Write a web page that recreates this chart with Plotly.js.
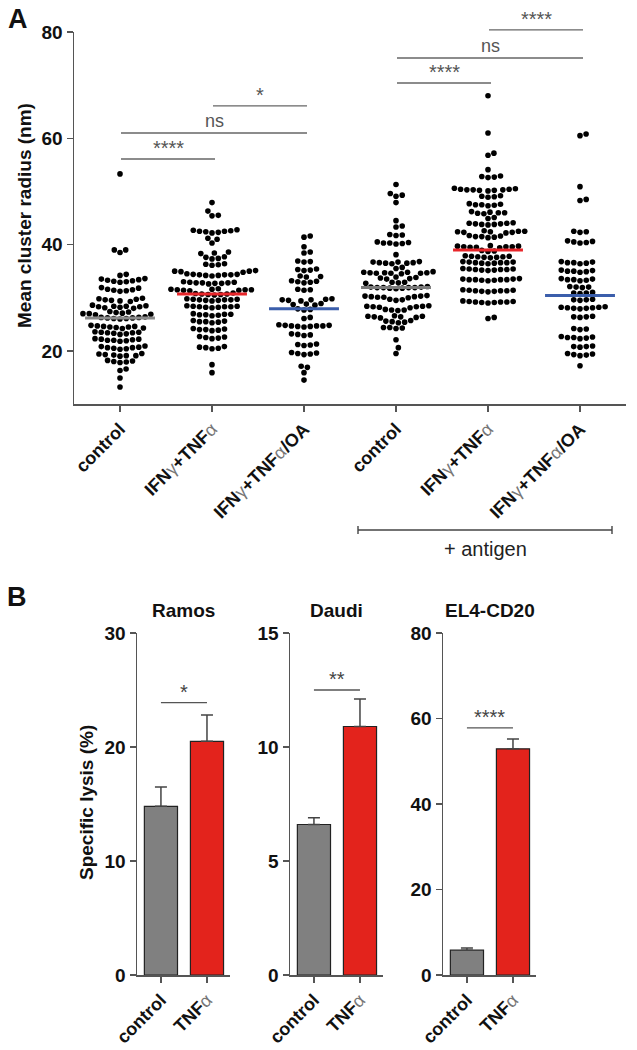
<!DOCTYPE html>
<html>
<head>
<meta charset="utf-8">
<script src="https://cdn.plot.ly/plotly-3.0.1.min.js"></script>
<style>html,body{margin:0;padding:0;background:#fff;}#chart{width:637px;height:1050px;}</style>
</head>
<body>
<div id="chart"></div>
<script>
// ---------- Panel A data (mean cluster radius, nm) ----------
const groupLabels = ["control", "IFN<span style=\"color:#777;font-weight:normal\">γ</span>+TNF<span style=\"color:#777;font-weight:normal\">α</span>",
  "IFN<span style=\"color:#777;font-weight:normal\">γ</span>+TNF<span style=\"color:#777;font-weight:normal\">α</span>/OA",
  "control", "IFN<span style=\"color:#777;font-weight:normal\">γ</span>+TNF<span style=\"color:#777;font-weight:normal\">α</span>",
  "IFN<span style=\"color:#777;font-weight:normal\">γ</span>+TNF<span style=\"color:#777;font-weight:normal\">α</span>/OA"];

const ctrl = [53.3, 39.0, 38.5, 39.0, 34.4, 34.2,
  33.5, 33.3, 33.0, 33.6, 32.9, 33.2, 33.4, 33.1,
  31.8, 31.5, 31.2, 31.6, 31.4, 31.9, 31.3,
  29.8, 29.5, 29.9, 29.4, 29.7, 29.6, 29.3,
  28.5, 28.3, 28.1, 28.4, 28.2, 28.6, 28.0, 28.3, 28.4,
  27.2, 27.0, 27.3, 26.9, 27.1, 27.4, 26.8, 27.0,
  26.3, 26.1, 26.2, 26.4, 26.0, 26.3, 26.2, 26.1,
  24.7, 24.5, 24.3, 24.6, 24.4, 24.8, 24.2, 24.5, 24.6,
  23.5, 23.3, 23.6, 23.2, 23.4, 23.5, 23.1, 23.4,
  22.2, 22.0, 22.3, 21.9, 22.1, 22.2, 21.8, 22.0,
  20.7, 20.5, 20.8, 20.4, 20.6, 20.9, 20.3, 20.6,
  19.3, 19.1, 19.4, 19.0, 19.2, 19.5, 19.1,
  18.1, 17.9, 18.2, 17.8, 18.0, 16.6, 16.3, 14.9, 13.2];

const ifnTnf = [47.9, 46.3, 45.5, 45.4,
  42.8, 42.5, 42.3, 42.6, 42.4, 42.2, 42.7, 42.5, 41.0, 41.2, 40.3,
  38.6, 38.3, 38.4, 37.6, 37.4, 37.7, 37.3, 36.3, 36.1, 36.2, 36.4,
  35.0, 34.8, 35.1, 34.9, 35.0,
  34.4, 34.2, 34.3, 34.5, 34.1, 34.3, 34.4, 34.2, 34.3,
  32.9, 32.7, 32.8, 33.0, 32.6, 32.8, 32.9, 32.7, 32.8,
  31.6, 31.4, 31.5, 31.7, 31.3, 31.5, 31.6, 31.4, 31.5,
  30.8, 30.6, 30.7, 30.9, 30.5, 30.7, 30.6,
  29.7, 29.5, 29.6, 29.8, 29.4, 29.6, 29.7, 29.5, 29.6,
  28.4, 28.2, 28.3, 28.5, 28.1, 28.3, 28.4, 28.2, 28.3,
  26.9, 26.7, 26.8, 27.0, 26.6, 26.8, 26.9,
  25.6, 25.4, 25.5, 25.7, 25.3, 25.5,
  24.1, 23.9, 24.0, 24.2, 23.8, 24.0,
  22.6, 22.4, 22.5, 22.7, 22.3,
  20.7, 20.5, 20.6, 20.8, 20.4, 17.4, 15.9];

const ifnTnfOa = [41.6, 41.4, 39.6, 38.6, 38.4, 36.9, 36.7, 36.8,
  35.4, 35.2, 35.3, 35.1, 34.1, 33.9, 34.0,
  33.1, 32.9, 33.0, 33.2, 32.8, 31.6, 31.4, 31.5,
  29.7, 29.5, 29.6, 29.8, 29.4, 29.6, 28.8, 28.6, 28.7, 28.9,
  27.9, 27.7, 27.8, 26.3, 26.1,
  24.8, 24.6, 24.7, 24.9, 24.5, 24.7, 24.8, 24.6, 24.7,
  23.1, 22.9, 23.0, 23.2, 21.3, 21.1, 21.2, 21.0,
  19.6, 19.4, 19.5, 19.7, 19.3, 17.1, 16.9, 15.9, 14.5];

const agControl = [51.3, 49.6, 49.3, 49.1, 47.9, 44.5, 43.5, 43.3,
  41.9, 41.7, 41.8, 40.4, 40.2, 40.3, 40.5, 40.1, 40.3, 38.1,
  36.7, 36.5, 36.6, 36.8, 36.4, 36.6, 36.7, 36.5, 35.7, 35.5,
  34.8, 34.6, 34.7, 34.9, 34.5, 34.7, 34.8, 34.6, 34.7, 34.6,
  33.8, 33.6, 33.7, 33.9, 33.5, 32.9, 32.7, 32.8, 32.9,
  32.0, 31.8, 31.9, 32.1, 31.7, 31.9, 32.0, 31.8, 31.9, 31.9,
  30.3, 30.1, 30.2, 30.4, 30.0, 30.2, 30.3, 30.1, 29.7, 29.5, 29.6,
  28.4, 28.2, 28.3, 28.5, 28.1, 28.3, 28.4, 27.8, 27.6, 27.7, 27.7,
  26.5, 26.3, 26.4, 26.6, 26.2, 26.4, 26.5, 25.6, 25.4, 25.5, 25.7, 25.3,
  24.4, 24.2, 24.3, 24.4, 22.1, 20.6, 19.5];

const agIfnTnf = [68.0, 61.0, 57.2, 56.8, 54.1, 52.9, 52.7, 52.8, 52.6,
  50.4, 50.2, 50.3, 50.5, 50.1, 50.3, 50.4, 50.2, 50.3, 50.6,
  49.1, 48.9, 49.0, 49.2, 47.6, 47.4, 47.5, 47.7, 47.3, 47.5,
  46.1, 45.9, 46.0, 46.2, 45.8, 46.0, 45.1, 44.9,
  44.0, 43.8, 43.9, 44.1, 43.7, 43.9, 44.0, 43.8,
  42.5, 42.3, 42.4, 42.6, 42.2, 42.4, 42.5, 42.3,
  41.6, 41.4, 41.5, 41.7, 41.3, 41.5,
  39.7, 39.5, 39.6, 39.8, 39.4, 39.6, 39.7, 39.5, 39.6, 38.9, 38.7, 38.8,
  37.8, 37.6, 37.7, 37.9, 37.5, 37.7, 37.8, 37.6,
  36.7, 36.5, 36.6, 36.8, 36.4, 36.6, 36.7, 36.5, 36.6,
  35.4, 35.2, 35.3, 35.5, 35.1, 35.3, 35.4, 35.2, 35.3,
  33.5, 33.3, 33.4, 33.6, 33.2, 33.4, 33.5, 33.3, 33.4, 33.4,
  31.4, 31.2, 31.3, 31.5, 31.1, 31.3, 31.4, 31.2, 31.3,
  29.3, 29.1, 29.2, 29.4, 29.0, 29.2, 29.3, 29.1, 29.2, 26.3, 26.1];

const agIfnTnfOa = [60.8, 60.5, 50.9, 48.5, 48.3, 42.5, 42.3, 42.4,
  40.6, 40.4, 40.5, 40.7, 40.3, 36.7, 36.5, 36.6, 36.8, 36.4, 36.6,
  35.1, 34.9, 35.0, 35.2, 34.8, 35.0, 33.5, 33.3, 33.4, 33.6, 33.2, 33.4,
  32.1, 31.9, 32.0, 32.0, 31.0, 30.8, 30.9, 30.9, 29.7, 29.5, 29.6, 29.6,
  28.2, 28.0, 28.1, 28.3, 27.9, 28.1, 28.2, 28.0, 26.5, 26.3, 26.4, 26.4,
  24.2, 24.0, 24.1, 22.6, 22.4, 22.5, 22.7, 22.3, 22.5,
  20.9, 20.7, 20.8, 20.8, 19.4, 19.2, 19.3, 19.5, 19.1, 17.2];

const groupValues = [ctrl, ifnTnf, ifnTnfOa, agControl, agIfnTnf, agIfnTnfOa];
const groupMeans = [26.2, 30.7, 27.9, 31.9, 39.0, 30.4];
const meanColors = ["#8a8a8a", "#e8262a", "#3b5eab", "#7a7a7a", "#e8262a", "#3b5eab"];

// significance comparisons in panel A: [from group, to group, level (nm), label]
const sigA = [[0, 1, 56.1, "****"], [0, 2, 61.0, "ns"], [1, 2, 66.1, "*"],
              [3, 4, 70.4, "****"], [3, 5, 75.1, "ns"], [4, 5, 80.4, "****"]];

// ---------- Panel B data (specific lysis, %) ----------
const barCats = ["control", "TNF<span style=\"color:#777;font-weight:normal\">α</span>"];
const cellLines = ["Ramos", "Daudi", "EL4-CD20"];
const lysisMean = [[14.8, 20.5], [6.6, 10.9], [5.8, 52.9]];
const lysisSem = [[1.7, 2.3], [0.3, 1.2], [0.5, 2.3]];
const lysisMax = [30, 15, 80];
const lysisDtick = [10, 5, 20];
const sigB = [[23.9, "*"], [12.5, "**"], [57.8, "****"]];

// ---------- layout geometry (pixels) ----------
const W = 637, H = 1050;
const FONT = "Liberation Sans, Arial, sans-serif";
const A = {x0: 74, x1: 626, yb: 404, yt: 32, xr: [-0.5, 5.5], yr: [10, 80]};
const Bx = [[137, 230], [290, 383], [443, 536]];
const B = {yb: 975, yt: 633, xr: [-0.52, 1.5]};

const fx = px => px / W;
const fy = py => 1 - py / H;
const axPx = v => A.x0 + (v - A.xr[0]) / (A.xr[1] - A.xr[0]) * (A.x1 - A.x0);
const ayPx = v => A.yb - (v - A.yr[0]) / (A.yr[1] - A.yr[0]) * (A.yb - A.yt);

// beeswarm x-offsets (layout only)
const kx = (A.x1 - A.x0) / (A.xr[1] - A.xr[0]);
const ky = (A.yb - A.yt) / (A.yr[1] - A.yr[0]);
function swarm(vals, center) {
  const D = 6.3;
  const placed = [];
  const xs = new Array(vals.length);
  const order = vals.map((v, i) => i).sort((a, b) => vals[a] - vals[b]);
  for (const i of order) {
    const y = vals[i] * ky;
    const near = placed.filter(p => Math.abs(p.y - y) < D);
    const cands = [0];
    near.forEach(p => { const dx = Math.sqrt(D * D - (p.y - y) ** 2); cands.push(p.x + dx, p.x - dx); });
    cands.sort((a, b) => Math.abs(a) - Math.abs(b));
    let best = 0;
    for (const c of cands) {
      if (near.every(p => (p.x - c) ** 2 + (p.y - y) ** 2 >= D * D - 0.01)) { best = c; break; }
    }
    placed.push({x: best, y: y});
    xs[i] = center + best / kx;
  }
  return xs;
}

const traces = [];
groupValues.forEach((vals, g) => {
  traces.push({type: "scatter", mode: "markers", x: swarm(vals, g), y: vals, xaxis: "x", yaxis: "y",
    marker: {color: "#000", size: 5.6}, hoverinfo: "y", showlegend: false});
});
groupMeans.forEach((m, g) => {
  traces.push({type: "scatter", mode: "lines", x: [g - 0.38, g + 0.38], y: [m, m], xaxis: "x", yaxis: "y",
    line: {color: meanColors[g], width: 3}, hoverinfo: "y", showlegend: false});
});
cellLines.forEach((name, k) => {
  traces.push({type: "bar", x: [0, 1], y: lysisMean[k], width: 0.72, xaxis: "x" + (k + 2), yaxis: "y" + (k + 2),
    marker: {color: ["#808080", "#e3231c"], line: {color: "#222", width: 1.2}},
    error_y: {type: "data", symmetric: false, array: lysisSem[k], arrayminus: [0, 0], color: "#444", thickness: 1.5, width: 6},
    showlegend: false});
});

const layout = {
  width: W, height: H, margin: {l: 0, r: 0, t: 0, b: 0},
  paper_bgcolor: "#fff", plot_bgcolor: "rgba(0,0,0,0)",
  font: {family: FONT},
  bargap: 0,
  xaxis: {domain: [fx(A.x0), fx(A.x1)], range: A.xr, tickvals: [0, 1, 2, 3, 4, 5], ticktext: groupLabels,
    tickangle: -45, showline: true, linecolor: "#555", linewidth: 1.5, ticks: "outside", ticklen: 6, tickcolor: "#555",
    tickwidth: 1.5, showgrid: false, zeroline: false, tickfont: {family: FONT, size: 18, color: "#111", weight: "bold"}, fixedrange: true},
  yaxis: {domain: [fy(A.yb), fy(A.yt)], range: A.yr, tickvals: [20, 40, 60, 80], showline: true, linecolor: "#555",
    linewidth: 1.5, ticks: "outside", ticklen: 6, tickcolor: "#555", tickwidth: 1.5, showgrid: false, zeroline: false,
    tickfont: {family: FONT, size: 19, color: "#111", weight: "bold"}, fixedrange: true},
  shapes: [], annotations: []
};

cellLines.forEach((name, k) => {
  const n = k + 2;
  layout["xaxis" + n] = {domain: [fx(Bx[k][0]), fx(Bx[k][1])], range: B.xr, anchor: "y" + n, tickvals: [0, 1], ticktext: barCats,
    tickangle: -45, showline: true, linecolor: "#555", linewidth: 1.5, ticks: "outside", ticklen: 6, tickcolor: "#555", tickwidth: 1.5,
    showgrid: false, zeroline: false, tickfont: {family: FONT, size: 18, color: "#111", weight: "bold"}, fixedrange: true};
  layout["yaxis" + n] = {domain: [fy(B.yb), fy(B.yt)], range: [0, lysisMax[k]], anchor: "x" + n, dtick: lysisDtick[k], tick0: 0,
    showline: true, linecolor: "#555", linewidth: 1.5, ticks: "outside", ticklen: 6, tickcolor: "#555", tickwidth: 1.5,
    showgrid: false, zeroline: false, tickfont: {family: FONT, size: 19, color: "#111", weight: "bold"}, fixedrange: true};
  layout.annotations.push({xref: "paper", yref: "paper", x: fx((Bx[k][0] + Bx[k][1]) / 2), y: fy(610), text: "<b>" + name + "</b>",
    showarrow: false, font: {family: FONT, size: 19, color: "#111"}, xanchor: "center", yanchor: "middle"});
  const bxPx = v => Bx[k][0] + (v - B.xr[0]) / (B.xr[1] - B.xr[0]) * (Bx[k][1] - Bx[k][0]);
  const byPx = v => B.yb - v / lysisMax[k] * (B.yb - B.yt);
  const ly = byPx(sigB[k][0]);
  layout.shapes.push({type: "line", xref: "paper", yref: "paper", x0: fx(bxPx(0)), x1: fx(bxPx(1)), y0: fy(ly), y1: fy(ly),
    line: {color: "#555", width: 1.3}});
  layout.annotations.push({xref: "paper", yref: "paper", x: fx((bxPx(0) + bxPx(1)) / 2), y: fy(ly + 2), text: sigB[k][1],
    showarrow: false, font: {family: FONT, size: 20, color: "#444"}, xanchor: "center", yanchor: "bottom"});
});

// panel A significance bars
sigA.forEach(([a, b, lv, lab]) => {
  const y = ayPx(lv);
  layout.shapes.push({type: "line", xref: "paper", yref: "paper", x0: fx(axPx(a) + 1), x1: fx(axPx(b) + 3), y0: fy(y), y1: fy(y),
    line: {color: "#666", width: 1.4}});
  const isNs = lab === "ns";
  layout.annotations.push({xref: "paper", yref: "paper", x: fx((axPx(a) + axPx(b)) / 2 + 2), y: fy(y + (isNs ? 0 : 2)), text: lab,
    showarrow: false, font: {family: FONT, size: isNs ? 18 : 20, color: "#555"}, xanchor: "center", yanchor: "bottom"});
});

// "+ antigen" bracket
layout.shapes.push({type: "line", xref: "paper", yref: "paper", x0: fx(358), x1: fx(612), y0: fy(530), y1: fy(530), line: {color: "#444", width: 1.4}});
layout.shapes.push({type: "line", xref: "paper", yref: "paper", x0: fx(358), x1: fx(358), y0: fy(526), y1: fy(534), line: {color: "#444", width: 1.4}});
layout.shapes.push({type: "line", xref: "paper", yref: "paper", x0: fx(612), x1: fx(612), y0: fy(526), y1: fy(534), line: {color: "#444", width: 1.4}});
layout.annotations.push({xref: "paper", yref: "paper", x: fx(485), y: fy(549), text: "+ antigen", showarrow: false,
  font: {family: FONT, size: 20, color: "#222"}, xanchor: "center", yanchor: "middle"});

// axis titles and panel letters
layout.annotations.push({xref: "paper", yref: "paper", x: fx(24), y: fy(216), text: "<b>Mean cluster radius (nm)</b>", textangle: -90,
  showarrow: false, font: {family: FONT, size: 19, color: "#111"}, xanchor: "center", yanchor: "middle"});
layout.annotations.push({xref: "paper", yref: "paper", x: fx(86), y: fy(803), text: "<b>Specific lysis (%)</b>", textangle: -90,
  showarrow: false, font: {family: FONT, size: 19, color: "#111"}, xanchor: "center", yanchor: "middle"});
layout.annotations.push({xref: "paper", yref: "paper", x: fx(6), y: fy(19), text: "<b>A</b>", showarrow: false,
  font: {family: FONT, size: 27, color: "#111"}, xanchor: "left", yanchor: "middle"});
layout.annotations.push({xref: "paper", yref: "paper", x: fx(5), y: fy(597), text: "<b>B</b>", showarrow: false,
  font: {family: FONT, size: 27, color: "#111"}, xanchor: "left", yanchor: "middle"});

Plotly.newPlot("chart", traces, layout, {staticPlot: true, displayModeBar: false});
</script>
</body>
</html>
